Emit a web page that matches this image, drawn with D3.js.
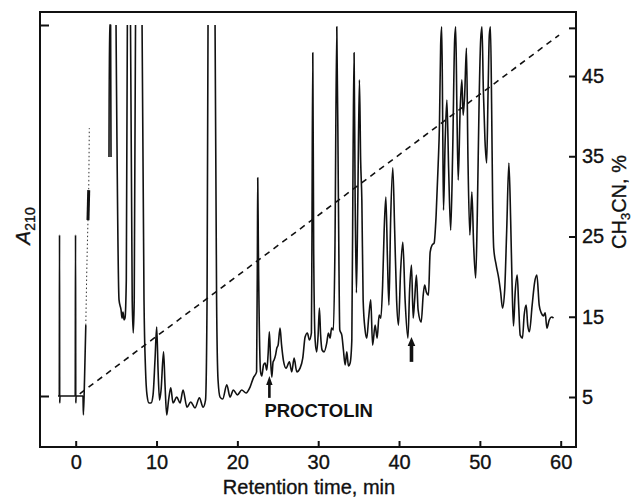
<!DOCTYPE html>
<html><head><meta charset="utf-8">
<script src="https://cdn.jsdelivr.net/npm/d3@7"></script>
<style>
html,body{margin:0;padding:0;background:#fff;}
svg{display:block;}
text{font-family:"Liberation Sans",Arial,Helvetica,sans-serif;fill:#111;}
</style></head><body>
<svg id="chart" width="635" height="499"></svg>
<script>
// ---------------- data ----------------
const xTicks = [0, 10, 20, 30, 40, 50, 60];
const pctTicks = [5, 15, 25, 35, 45];
const pctExtraTicks = [51];
const absTicks = [0, 100];
const gradientTime = [0.5, 59.8];
const gradientPct = [5.4, 50.1];
// chromatogram: [retention time (min), A210 (% of full scale)]; null = pen off scale
const chromatogram = [
 [-2.19,0],[-2.03,0],[-2.00,43.4],[-1.98,-1.9],[-1.94,0],[-0.06,0],[-0.02,43.4],[0.01,-1.9],[0.05,0],
 [0.90,0],[0.95,-5.1],[1.09,4.3],[1.25,19.1],
 null,
 [4.12,64.4],[4.17,100],[4.32,100],[4.37,64.4],
 null,
 [4.99,100],[5.36,25.9],[5.61,23.2],[5.73,21.0],[5.85,22.6],[5.98,20.5],[6.10,21.0],[6.26,31.3],[6.39,100],
 null,
 [6.78,100],[6.99,25.9],[7.12,17.0],[7.24,25.9],[7.40,100],
 null,
 [8.21,100],[8.45,25.9],[8.64,7.0],[8.82,0.3],[9.07,-1.9],[9.32,-1.9],[9.57,0.3],[9.81,9.7],[10.02,18.6],
 [10.19,7.0],[10.37,-1.1],[10.56,1.6],[10.87,11.9],[11.05,3.0],[11.26,-5.1],[11.49,-1.1],[11.76,2.2],
 [12.04,-1.9],[12.50,-0.3],[12.91,-1.9],[13.28,1.6],[13.77,-3.0],[14.23,-1.6],[14.76,-3.2],[15.30,-0.5],
 [15.76,-3.0],[16.06,-1.1],[16.25,25.9],[16.37,100],
 null,
 [17.24,100],[17.43,25.9],[17.61,4.3],[17.86,-0.3],[18.19,-0.8],[18.69,3.0],[19.10,-0.3],[19.50,1.6],
 [20.00,0.3],[20.54,1.6],[21.08,0.8],[21.57,2.4],[21.98,4.9],[22.38,6.5],[22.48,39.4],[22.52,58.8],
 [22.60,39.4],[22.87,6.5],[23.02,5.4],[23.24,8.4],[23.43,8.9],[23.64,7.0],[23.80,11.1],[23.96,17.3],
 [24.11,9.7],[24.26,5.1],[24.42,9.2],[24.54,9.7],[24.73,11.1],[24.88,12.9],[25.04,13.7],[25.28,18.3],
 [25.47,13.7],[25.69,9.7],[26.03,7.5],[26.44,9.2],[26.73,6.5],[27.02,10.2],[27.35,6.5],[27.76,7.5],
 [28.09,10.2],[28.38,15.9],[28.66,17.0],[28.91,15.1],[29.16,17.0],[29.22,39.4],[29.33,92.5],[29.44,39.4],
 [29.62,15.1],[29.81,11.9],[29.99,16.4],[30.15,23.7],[30.30,16.4],[30.48,12.4],[30.73,11.9],[31.06,14.3],
 [31.26,17.0],[31.47,15.6],[31.66,18.3],[31.88,17.8],[32.07,39.4],[32.30,99.5],[32.50,52.8],[32.67,17.8],
 [32.92,16.4],[33.12,12.4],[33.33,8.4],[33.54,11.9],[33.74,8.1],[33.95,8.9],[34.16,15.1],[34.32,66.3],
 [34.44,92.5],[34.57,52.8],[34.73,27.8],[34.90,52.8],[35.10,85.2],[35.25,63.6],[35.40,52.8],[35.56,25.9],
 [35.80,17.8],[36.01,15.6],[36.24,21.0],[36.50,25.9],[36.73,13.7],[37.04,19.1],[37.29,15.6],[37.54,21.8],
 [37.75,21.0],[37.97,29.9],[38.16,44.7],[38.37,53.6],[38.57,36.7],[38.75,24.5],[38.96,47.4],[39.23,61.5],
 [39.46,44.7],[39.70,25.9],[39.93,19.1],[40.20,34.0],[40.47,41.5],[40.75,25.9],[41.10,15.6],[41.31,28.6],
 [41.54,35.3],[41.75,21.0],[41.93,25.9],[42.15,32.6],[42.36,23.2],[42.74,19.9],[42.99,27.2],[43.17,29.9],
 [43.38,28.0],[43.64,27.2],[43.85,38.8],[44.10,40.7],[44.34,41.2],[44.59,48.8],[44.84,62.3],[45.00,73.0],
 [45.15,94.6],[45.28,99.5],[45.40,74.4],[45.50,50.1],[45.71,69.0],[45.92,79.8],[46.14,60.9],[46.39,44.7],
 [46.64,66.3],[46.88,96.0],[47.01,99.5],[47.16,77.1],[47.32,58.2],[47.56,77.1],[47.77,85.2],[47.93,75.7],
 [48.12,81.1],[48.34,93.8],[48.53,63.6],[48.76,43.4],[49.01,55.0],[49.23,40.7],[49.48,31.8],[49.67,47.4],
 [49.91,79.8],[50.10,96.0],[50.26,99.5],[50.43,82.5],[50.63,69.0],[50.84,62.8],[51.02,82.5],[51.17,97.3],
 [51.31,99.5],[51.46,77.1],[51.58,52.8],[51.71,39.9],[52.02,35.3],[52.33,31.8],[52.57,28.0],[52.80,23.7],
 [53.07,28.6],[53.32,44.7],[53.59,62.8],[53.81,47.4],[54.00,28.6],[54.16,18.9],[54.37,28.0],[54.62,32.6],
 [54.80,24.5],[54.99,16.4],[55.27,15.6],[55.48,21.8],[55.73,24.5],[55.92,19.1],[56.13,17.3],[56.47,24.5],
 [56.78,30.7],[57.05,32.6],[57.34,24.5],[57.59,22.4],[57.87,21.6],[58.08,22.4],[58.29,18.3],[58.58,20.5],
 [58.89,21.3],[59.11,21.0]
];
// faint (dotted) pen trace of the solvent front
const solventFront = [[1.25,19.1],[1.40,36.7],[1.52,47.4],[1.61,55.5],[1.68,72.2]];
const arrowTime = [23.96, 41.54];
const arrowBaseAbs = [-0.5, 9.2];
const arrowTipAbs = [5.4, 15.9];
const arrowLabels = ["PROCTOLIN", ""];

// ---------------- layout ----------------
const frame = {left: 40, right: 576, top: 12, bottom: 447};
const svg = d3.select("#chart");
const x = d3.scaleLinear().domain([0, 60]).range([75.7, 560.7]);
const yAbs = d3.scaleLinear().domain([0, 100]).range([396, 25]);
const yPct = d3.scaleLinear().domain([5, 45]).range([397, 76]);
const FS = 20;
const FONT = '"Liberation Sans",Arial,sans-serif';

// frame
svg.append("path")
  .attr("d", `M${frame.left},${frame.top}H${frame.right}V${frame.bottom}H${frame.left}Z`)
  .attr("fill", "none").attr("stroke", "#111").attr("stroke-width", 2);

// bottom axis
const xAxis = svg.append("g").attr("transform", `translate(0,${frame.bottom})`)
  .call(d3.axisBottom(x).tickValues(xTicks).tickSizeInner(-6).tickSizeOuter(0).tickPadding(8));
xAxis.select(".domain").remove();
xAxis.selectAll(".tick line").attr("stroke", "#111").attr("stroke-width", 2);
xAxis.selectAll(".tick text").attr("font-size", FS).attr("fill", "#111")
  .attr("font-family", FONT).attr("stroke", "#111").attr("stroke-width", 0.35);

// right axis
const rAxis = svg.append("g").attr("transform", `translate(${frame.right},0)`)
  .call(d3.axisRight(yPct).tickValues(pctTicks.concat(pctExtraTicks))
    .tickFormat(d => pctTicks.includes(d) ? d : "").tickSizeInner(-7).tickSizeOuter(0).tickPadding(6));
rAxis.select(".domain").remove();
rAxis.selectAll(".tick line").attr("stroke", "#111").attr("stroke-width", 2);
rAxis.selectAll(".tick text").attr("font-size", FS).attr("fill", "#111")
  .attr("font-family", FONT).attr("stroke", "#111").attr("stroke-width", 0.35);

// left axis (no labels)
const lAxis = svg.append("g").attr("transform", `translate(${frame.left},0)`)
  .call(d3.axisLeft(yAbs).tickValues(absTicks).tickFormat("").tickSizeInner(-9).tickSizeOuter(0));
lAxis.select(".domain").remove();
lAxis.selectAll(".tick line").attr("stroke", "#111").attr("stroke-width", 2);

// gradient (dashed)
const grad = gradientTime.map((t, i) => [t, gradientPct[i]]);
svg.append("path").datum(grad)
  .attr("d", d3.line().x(d => x(d[0])).y(d => yPct(d[1])))
  .attr("fill", "none").attr("stroke", "#111").attr("stroke-width", 1.6)
  .attr("stroke-dasharray", "6,5");

// chromatogram trace
const line = d3.line().defined(d => d !== null).x(d => x(d[0])).y(d => yAbs(d[1]))
  .curve(d3.curveMonotoneX);
svg.append("path").datum(chromatogram).attr("d", line)
  .attr("fill", "none").attr("stroke", "#111").attr("stroke-width", 1.6)
  .attr("stroke-linejoin", "round");
svg.append("path").datum(solventFront).attr("d", line)
  .attr("fill", "none").attr("stroke", "#333").attr("stroke-width", 1)
  .attr("stroke-dasharray", "1.5,2.5");
svg.append("path").datum(solventFront.slice(2, 4)).attr("d", line)
  .attr("fill", "none").attr("stroke", "#111").attr("stroke-width", 3);

// arrows
arrowTime.forEach((t, i) => {
  const ax = x(t), yb = yAbs(arrowBaseAbs[i]), yt = yAbs(arrowTipAbs[i]);
  svg.append("line").attr("x1", ax).attr("x2", ax).attr("y1", yb).attr("y2", yt + 6)
    .attr("stroke", "#111").attr("stroke-width", i === 0 ? 2.6 : 3.6);
  const hw = i === 0 ? 3.2 : 3.8;
  svg.append("path").attr("d", `M${ax},${yt}L${ax + hw},${yt + 9}L${ax - hw},${yt + 9}Z`)
    .attr("fill", "#111");
  if (arrowLabels[i]) {
    svg.append("text").attr("x", ax - 5).attr("y", yb + 19)
      .attr("font-size", 18.5).attr("font-weight", "bold").text(arrowLabels[i]);
  }
});

// axis titles
svg.append("text").attr("x", (frame.left + frame.right) / 2 + 1).attr("y", 494)
  .attr("text-anchor", "middle").attr("font-size", FS).attr("stroke", "#111").attr("stroke-width", 0.35)
  .text("Retention time, min");

const rt = svg.append("text").attr("transform", "translate(626,202) rotate(-90)")
  .attr("text-anchor", "middle").attr("font-size", FS).attr("stroke", "#111").attr("stroke-width", 0.35);
rt.append("tspan").text("CH");
rt.append("tspan").attr("font-size", 13).attr("dy", 4).text("3");
rt.append("tspan").attr("dy", -4).text("CN, %");

const lt = svg.append("text").attr("transform", "translate(30,226) rotate(-90)")
  .attr("text-anchor", "middle").attr("font-size", FS + 1).attr("stroke", "#111").attr("stroke-width", 0.35);
lt.append("tspan").attr("font-style", "italic").text("A");
lt.append("tspan").attr("font-size", 14).attr("dy", 5).text("210");
</script>
</body></html>
